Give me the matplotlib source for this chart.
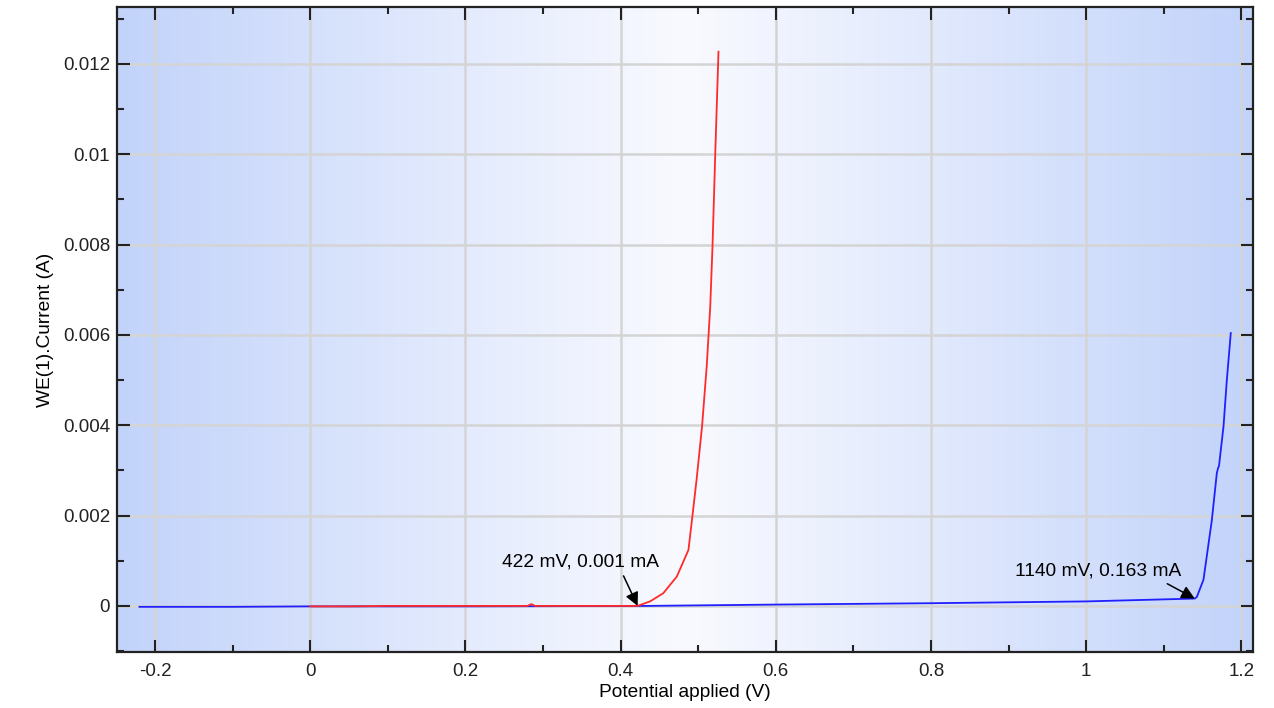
import numpy as np
import matplotlib
matplotlib.use("Agg")
import matplotlib.pyplot as plt
from matplotlib.ticker import MultipleLocator, FormatStrFormatter

plt.rcParams['font.family'] = ['Liberation Sans', 'DejaVu Sans']
plt.rcParams['axes.unicode_minus'] = False

# red sweep (V, A)
red_v = [0.0, 0.05, 0.1, 0.15, 0.2, 0.25, 0.28, 0.285, 0.29, 0.33, 0.38, 0.422,
         0.438, 0.455, 0.4725, 0.4875, 0.492, 0.498, 0.505, 0.511, 0.5155,
         0.5185, 0.522, 0.5262]
red_i = [-0.00001, -0.00001, 0.0, 0.0, 0.0, 0.0, 0.0, 0.00004, 0.0, 0.0, 0.0, 0.000001,
         0.0001, 0.00028, 0.00065, 0.00124, 0.0019, 0.0028, 0.00397, 0.0053, 0.0066,
         0.00796, 0.00999, 0.01227]

# blue sweep (V, A)
blue_v = [-0.22, -0.1, 0.0, 0.2, 0.43, 0.6, 0.8, 1.0, 1.14, 1.1427, 1.1512, 1.162,
          1.1684, 1.1700, 1.1712, 1.177, 1.1813, 1.1864]
blue_i = [-0.00002, -0.00002, -0.00001, -0.00001, 0.0, 0.00003, 0.00006, 0.0001, 0.000163,
          0.0002, 0.00058, 0.0019, 0.00294, 0.00305, 0.0031, 0.00397, 0.005, 0.00604]

# annotated points
onset_v = [0.422, 1.14]
onset_i = [0.000001, 0.000163]
onset_txt = ['422 mV, 0.001 mA', '1140 mV, 0.163 mA']

fig = plt.figure(figsize=(12.74, 7.08), dpi=100)
ax = fig.add_axes([0.0918, 0.0791, 0.8917, 0.911])

# horizontal gradient background: blue at the edges, near white in the middle
edge = np.array([194, 211, 250]) / 255
mid = np.array([249, 250, 255]) / 255
g = np.abs(np.linspace(-1, 1, 400))[None, :, None]
grad = mid + (edge - mid) * g
ax.imshow(grad, extent=[0, 1, 0, 1], transform=ax.transAxes, aspect='auto', zorder=0)

ax.plot(blue_v, blue_i, color='#1f1fff', lw=1.3, zorder=3)
ax.plot(red_v, red_i, color='#ff2a2a', lw=1.3, zorder=4)

ax.annotate(onset_txt[0], xy=(onset_v[0], onset_i[0]), xytext=(0.348, 0.00097),
            ha='center', va='center', fontsize=13.8, zorder=5,
            arrowprops=dict(arrowstyle='-|>', color='black', lw=1.1, mutation_scale=20,
                            shrinkA=2, shrinkB=0, relpos=(0.76, 0.0)))
ax.annotate(onset_txt[1], xy=(onset_v[1], onset_i[1]), xytext=(1.0155, 0.00077),
            ha='center', va='center', fontsize=13.8, zorder=5,
            arrowprops=dict(arrowstyle='-|>', color='black', lw=1.1, mutation_scale=20,
                            shrinkA=2, shrinkB=0, relpos=(0.87, 0.0)))

ax.set_xlim(-0.249, 1.215)
ax.set_ylim(-0.00102, 0.01326)

ax.xaxis.set_major_locator(MultipleLocator(0.2))
ax.xaxis.set_minor_locator(MultipleLocator(0.1))
ax.yaxis.set_major_locator(MultipleLocator(0.002))
ax.yaxis.set_minor_locator(MultipleLocator(0.001))
ax.xaxis.set_major_formatter(FormatStrFormatter('%g'))
ax.yaxis.set_major_formatter(FormatStrFormatter('%g'))

ax.tick_params(which='both', direction='in', top=True, right=True, labelsize=13.5,
               colors='#222222')
ax.tick_params(axis='x', pad=8)
ax.tick_params(axis='y', pad=5)
ax.tick_params(which='major', length=9, width=1.5)
ax.tick_params(which='minor', length=5, width=1.5)
ax.grid(True, which='major', color='#d4d4d4', lw=1.8, zorder=1)
ax.set_axisbelow(True)
for s in ax.spines.values():
    s.set_linewidth(1.6)
    s.set_color('#222222')

ax.set_xlabel('Potential applied (V)', fontsize=13.8, labelpad=3)
ax.set_ylabel('WE(1).Current (A)', fontsize=13.8, labelpad=6)

fig.savefig('out.png', dpi=100)
